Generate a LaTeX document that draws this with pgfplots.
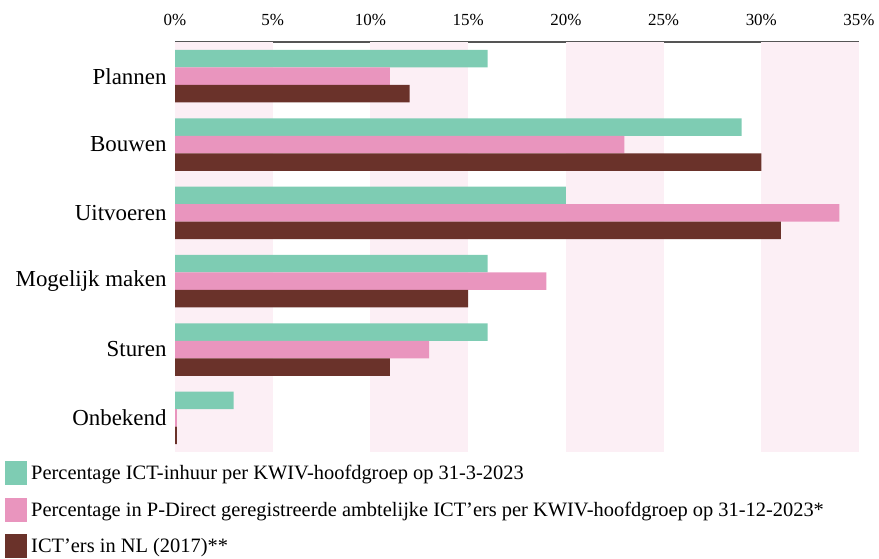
\documentclass[border=0pt]{standalone}
\usepackage{pgfplots}
\pgfplotsset{compat=1.18}
\usepackage{fontspec}
\setmainfont{Liberation Serif}
\definecolor{cgreen}{HTML}{7ECCB3}
\definecolor{cpink}{HTML}{E995BE}
\definecolor{cbrown}{HTML}{6A322A}
\definecolor{cband}{HTML}{FCEFF5}
\definecolor{caxis}{HTML}{555555}
\pgfplotsset{sqlegend/.style={legend image code/.code={\fill[##1,draw=none] (0bp,-12bp) rectangle (22bp,12bp);}}}
\begin{document}
\begin{tikzpicture}
\useasboundingbox (0,0) rectangle (879bp,559bp);
\begin{axis}[
  at={(175bp,107bp)}, anchor=south west,
  scale only axis, width=684bp, height=410bp,
  xmin=0, xmax=35, ymin=-0.5, ymax=5.5,
  y dir=reverse,
  axis x line*=top, axis y line*=left,
  x axis line style={draw=caxis, line width=1.6bp, -},
  y axis line style={draw=none},
  major tick length=0pt,
  xtick={0,5,10,15,20,25,30,35},
  xticklabels={0\%,5\%,10\%,15\%,20\%,25\%,30\%,35\%},
  xticklabel style={font=\fontsize{17}{20}\selectfont, yshift=13bp},
  ytick={0,1,2,3,4,5},
  yticklabels={Plannen,Bouwen,Uitvoeren,Mogelijk maken,Sturen,Onbekend},
  yticklabel style={font=\fontsize{23}{26}\selectfont, xshift=-5bp},
  bar width=17.5bp,
  legend style={at={(-0.2485,-0.022)}, anchor=north west, draw=none, fill=none,
    font=\fontsize{20.5}{24}\selectfont, cells={anchor=west}, row sep=12.5bp, inner sep=0pt,
    nodes={inner xsep=4bp, inner ysep=0pt}},
  legend cell align=left,
]
\fill[cband] (axis cs:0,-0.5) rectangle (axis cs:5,5.5);
\fill[cband] (axis cs:10,-0.5) rectangle (axis cs:15,5.5);
\fill[cband] (axis cs:20,-0.5) rectangle (axis cs:25,5.5);
\fill[cband] (axis cs:30,-0.5) rectangle (axis cs:35,5.5);
\addplot[xbar, bar shift=17.5bp, fill=cgreen, draw=none, sqlegend] coordinates {(16,0) (29,1) (20,2) (16,3) (16,4) (3,5)};
\addplot[xbar, bar shift=0bp, fill=cpink, draw=none, sqlegend] coordinates {(11,0) (23,1) (34,2) (19,3) (13,4) (0.1,5)};
\addplot[xbar, bar shift=-17.5bp, fill=cbrown, draw=none, sqlegend] coordinates {(12,0) (30,1) (31,2) (15,3) (11,4) (0.1,5)};
\legend{Percentage ICT-inhuur per KWIV-hoofdgroep op 31-3-2023,
Percentage in P-Direct geregistreerde ambtelijke ICT'ers per KWIV-hoofdgroep op 31-12-2023*,
ICT'ers in NL (2017)**}
\end{axis}
\end{tikzpicture}
\end{document}
